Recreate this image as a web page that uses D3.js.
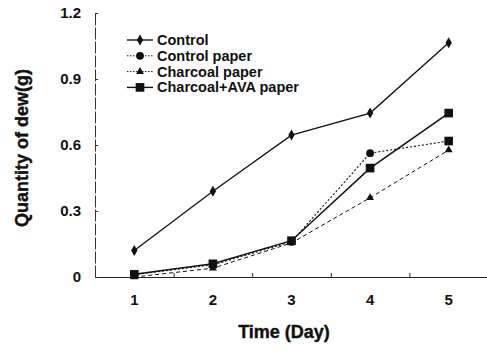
<!DOCTYPE html>
<html>
<head>
<meta charset="utf-8">
<script src="https://cdn.jsdelivr.net/npm/d3@7"></script>
<style>
  body { margin: 0; background: #fff; }
  text { font-family: "Liberation Sans", Arial, sans-serif; font-weight: bold; fill: #111; }
</style>
</head>
<body>
<svg id="chart"></svg>
<script>
let days = [1, 2, 3, 4, 5];
let yTicks = [0, 0.3, 0.6, 0.9, 1.2];
let control = [0.12, 0.39, 0.645, 0.745, 1.065];
let controlPaper = [0.01, 0.055, 0.16, 0.563, 0.618];
let charcoalPaper = [0.0, 0.04, 0.155, 0.36, 0.577];
let charcoalAva = [0.012, 0.06, 0.165, 0.495, 0.745];
let seriesNames = ["Control", "Control paper", "Charcoal paper", "Charcoal+AVA paper"];

drawChart();

function drawChart(){
    let config = chartConfig();
    let scales = chartScales(config);
    drawAxes(scales, config);
    drawSeries(scales, config);
    drawLegend(config);
}

function chartConfig(){
    let width = 487;
    let height = 353;
    let svg = d3.select("#chart").attr("width", width).attr("height", height);
    let series = [
        {name: seriesNames[0], values: control, dash: null, width: 1.3, marker: "diamond", size: 4},
        {name: seriesNames[1], values: controlPaper, dash: "2,2", width: 1.1, marker: "circle", size: 4},
        {name: seriesNames[2], values: charcoalPaper, dash: "4,3", width: 1, marker: "star", size: 3},
        {name: seriesNames[3], values: charcoalAva, dash: null, width: 1.5, marker: "square", size: 5}
    ];
    // last point of control paper is drawn as a square in the original
    return {width, height, svg, series};
}

function chartScales(config){
    let xScale = d3.scaleLinear().domain([0.5, 5.5]).range([95, 488]);
    let yScale = d3.scaleLinear().domain([0, 1.2]).range([277, 13]);
    return {xScale, yScale};
}

function drawAxes(scales, config){
    let {svg} = config;
    let {xScale, yScale} = scales;

    let xAxis = svg.append("g").attr("transform", `translate(0,${yScale(0)})`)
        .call(d3.axisBottom(xScale).tickValues([1.5, 2.5, 3.5, 4.5]).tickSizeInner(-4).tickSizeOuter(0).tickFormat(""));
    xAxis.select(".domain").attr("stroke", "#222").attr("stroke-width", 1.2);
    xAxis.selectAll(".tick line").attr("stroke", "#222");

    svg.append("g").selectAll("text").data(days).enter().append("text")
        .attr("x", d => xScale(d))
        .attr("y", 305)
        .attr("text-anchor", "middle")
        .style("font-size", "15px")
        .text(d => d);

    let yAxis = svg.append("g").attr("transform", `translate(${xScale(0.5)},0)`)
        .call(d3.axisLeft(yScale).tickValues(yTicks).tickSizeInner(-3).tickSizeOuter(0).tickFormat(""));
    yAxis.select(".domain").attr("stroke", "#333").attr("stroke-width", 1).attr("stroke-dasharray", "12,2");
    yAxis.selectAll(".tick line").attr("stroke", "#333");

    svg.append("g").selectAll("text").data(yTicks).enter().append("text")
        .attr("x", 81)
        .attr("y", d => yScale(d) + 5)
        .attr("text-anchor", "end")
        .style("font-size", "15px")
        .text(d => d === 0 ? "0" : d3.format(".1f")(d));

    svg.append("text")
        .attr("x", 284).attr("y", 338)
        .attr("text-anchor", "middle")
        .style("font-size", "18px")
        .style("stroke", "#111").style("stroke-width", 0.4)
        .text("Time (Day)");

    svg.append("text")
        .attr("transform", "translate(28,148) rotate(-90)")
        .attr("text-anchor", "middle")
        .style("font-size", "18px")
        .style("stroke", "#111").style("stroke-width", 0.4)
        .text("Quantity of dew(g)");
}

function markerPath(type, size){
    if(type === "diamond") return d3.symbol(d3.symbolDiamond, size * size * 2.2)();
    if(type === "circle") return d3.symbol(d3.symbolCircle, size * size * 3)();
    if(type === "star") return d3.symbol(d3.symbolTriangle, size * size * 3)();
    return d3.symbol(d3.symbolSquare, size * size * 3)();
}

function drawSeries(scales, config){
    let {svg, series} = config;
    let {xScale, yScale} = scales;
    let line = d3.line().x((d, i) => xScale(days[i])).y(d => yScale(d));

    series.forEach(s => {
        let path = svg.append("path")
            .datum(s.values)
            .attr("d", line)
            .attr("fill", "none")
            .attr("stroke", "#111")
            .attr("stroke-width", s.width);
        if(s.dash) path.attr("stroke-dasharray", s.dash);

        svg.append("g").selectAll("path").data(s.values).enter().append("path")
            .attr("transform", (d, i) => `translate(${xScale(days[i])},${yScale(d)})`)
            .attr("d", (d, i) => (s.name === "Control paper" && i === 4) ? markerPath("square", 5) : markerPath(s.marker, s.size))
            .attr("fill", "#111");
    });
}

function drawLegend(config){
    let {svg, series} = config;
    let legend = svg.append("g").attr("transform", "translate(127,40)");
    let rows = legend.selectAll("g").data(series).enter().append("g")
        .attr("transform", (d, i) => `translate(0,${i * 15.8})`);
    rows.append("line")
        .attr("x1", 0).attr("x2", 26)
        .attr("stroke", "#111")
        .attr("stroke-width", d => d.dash ? 1 : 1.4)
        .attr("stroke-dasharray", d => d.dash ? "1.5,1.5" : null);
    rows.append("path")
        .attr("transform", "translate(13,0)")
        .attr("d", d => markerPath(d.marker, d.size))
        .attr("fill", "#111");
    rows.append("text")
        .attr("x", 30).attr("y", 5)
        .style("font-size", "14.5px")
        .text(d => d.name);
}
</script>
</body>
</html>
